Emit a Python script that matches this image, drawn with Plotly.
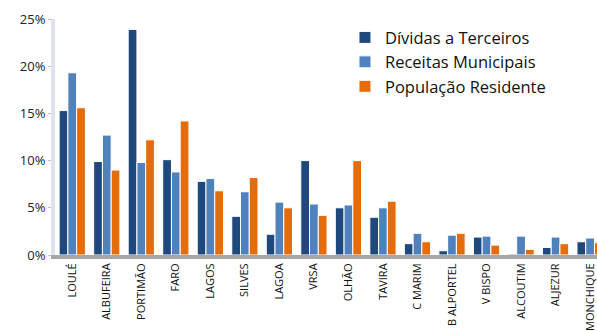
import plotly.graph_objects as go

municipios = ["LOULÉ", "ALBUFEIRA", "PORTIMÃO", "FARO", "LAGOS", "SILVES", "LAGOA", "VRSA",
              "OLHÃO", "TAVIRA", "C MARIM", "B ALPORTEL", "V BISPO", "ALCOUTIM", "ALJEZUR", "MONCHIQUE"]
dividas = [15.3, 9.9, 23.9, 10.1, 7.8, 4.1, 2.2, 10.0, 5.0, 4.0, 1.2, 0.45, 1.9, 0.1, 0.8, 1.4]
receitas = [19.3, 12.7, 9.8, 8.8, 8.1, 6.7, 5.6, 5.4, 5.3, 5.0, 2.3, 2.1, 2.0, 2.0, 1.9, 1.8]
populacao = [15.6, 9.0, 12.2, 14.2, 6.8, 8.2, 5.0, 4.2, 10.0, 5.7, 1.4, 2.3, 1.05, 0.6, 1.2, 1.3]

series = [
    ("Dívidas a Terceiros", dividas, "#1F497D"),
    ("Receitas Municipais", receitas, "#4F81BD"),
    ("População Residente", populacao, "#E46C0A"),
]

fig = go.Figure()
for nome, valores, cor in series:
    fig.add_trace(go.Bar(
        name=nome, x=municipios, y=[v / 100 for v in valores],
        marker=dict(color=cor, line=dict(color="white", width=1)),
    ))

fig.update_layout(
    width=597, height=331,
    margin=dict(l=55, r=0, t=19, b=74),
    paper_bgcolor="white", plot_bgcolor="white",
    barmode="group", bargap=0.24, bargroupgap=0,
    font=dict(family="Open Sans, Noto Sans, sans-serif", color="#222222"),
    legend=dict(
        x=0.535, y=0.995, xanchor="left", yanchor="top",
        font=dict(size=16.5, color="#111111"),
        bgcolor="rgba(0,0,0,0)", itemwidth=30, tracegroupgap=0,
    ),
    showlegend=True,
)
fig.update_xaxes(
    range=[-0.5, 15.2], tickangle=-90, tickfont=dict(size=11, color="#111111"),
    showline=True, linecolor="#a6a6a6", linewidth=4, ticks="",
    showgrid=False,
)
fig.update_yaxes(
    range=[0, 0.25], dtick=0.05, tickformat=".0%",
    tickfont=dict(size=13, color="#222222"),
    showline=True, linecolor="#dde3ee", linewidth=4,
    ticks="outside", ticklen=3, tickcolor="#bfbfbf",
    showgrid=False, zeroline=False,
)

fig.write_html("out.html")
